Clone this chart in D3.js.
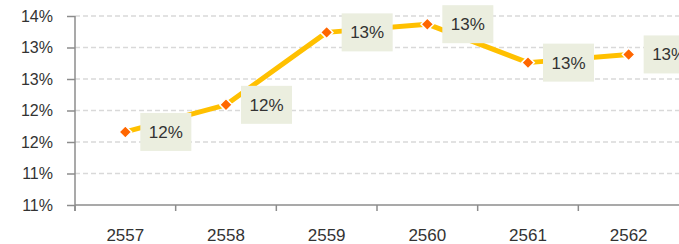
<!DOCTYPE html>
<html><head><meta charset="utf-8">
<script src="https://cdn.jsdelivr.net/npm/d3@7"></script>
<style>html,body{margin:0;padding:0;background:#fff;}svg{display:block;}</style>
</head><body>
<script>
const categories = ["2557","2558","2559","2560","2561","2562"];
const values = [12.16, 12.59, 13.74, 13.87, 13.26, 13.39];
const dataLabels = ["12%","12%","13%","13%","13%","13%"];
const yTicks = [11, 11.5, 12, 12.5, 13, 13.5, 14];
const yTickLabels = ["11%","11%","12%","12%","13%","13%","14%"];

const W = 679, H = 244;
const mLeft = 75, mRight = 679, mTop = 16, mBottom = 205;
const svg = d3.select("body").append("svg").attr("width", W).attr("height", H);
const font = "'Liberation Sans', Arial, sans-serif";

const x = d3.scaleBand().domain(categories).range([mLeft, mRight]).padding(0);
const y = d3.scaleLinear().domain([11, 14]).range([mBottom, mTop]);

// gridlines
svg.append("g").selectAll("line").data(yTicks.filter(t => t !== 11)).join("line")
  .attr("x1", mLeft).attr("x2", mRight)
  .attr("y1", d => y(d)).attr("y2", d => y(d))
  .attr("stroke", "#d9d9d9").attr("stroke-width", 1.5).attr("stroke-dasharray", "5,3");

// y axis
const yAxis = d3.axisLeft(y).tickValues(yTicks).tickSize(8).tickPadding(14)
  .tickFormat((d, i) => yTickLabels[i]);
const gy = svg.append("g").attr("transform", `translate(${mLeft},0)`).call(yAxis);
gy.select(".domain").attr("stroke", "#8c8c8c").attr("stroke-width", 1.5).attr("d", `M0,${mTop}V${mBottom + 6}`);
gy.selectAll(".tick line").attr("stroke", "#8c8c8c").attr("stroke-width", 1.5);
gy.selectAll(".tick text").attr("font-family", font).attr("font-size", 16).attr("fill", "#333");

// x axis
const gx = svg.append("g").attr("transform", `translate(0,${mBottom})`);
gx.append("line").attr("x1", mLeft).attr("x2", mRight).attr("y1", 0).attr("y2", 0)
  .attr("stroke", "#8c8c8c").attr("stroke-width", 1.5);
gx.selectAll("line.tk").data(categories).join("line").attr("class", "tk")
  .attr("x1", d => x(d)).attr("x2", d => x(d)).attr("y1", 0).attr("y2", 6)
  .attr("stroke", "#8c8c8c").attr("stroke-width", 1.5);
gx.selectAll("text").data(categories).join("text")
  .attr("x", d => x(d) + x.bandwidth() / 2).attr("y", 36)
  .attr("text-anchor", "middle").attr("font-family", font).attr("font-size", 17).attr("fill", "#333")
  .text(d => d);

// line
const pts = categories.map((c, i) => ({c, v: values[i], l: dataLabels[i]}));
const cx = d => x(d.c) + x.bandwidth() / 2;
svg.append("path").datum(pts)
  .attr("d", d3.line().x(cx).y(d => y(d.v)))
  .attr("fill", "none").attr("stroke", "#FFC000").attr("stroke-width", 5).attr("stroke-linejoin", "round");

// markers
svg.append("g").selectAll("path").data(pts).join("path")
  .attr("d", d3.symbol().type(d3.symbolDiamond2).size(100))
  .attr("transform", d => `translate(${cx(d)},${y(d.v)})`)
  .attr("fill", "#FF6600").attr("stroke", "#fff").attr("stroke-width", 1.5);

// data labels
const lg = svg.append("g").selectAll("g").data(pts).join("g")
  .attr("transform", d => `translate(${cx(d) + 15},${y(d.v)})`);
lg.append("rect").attr("x", 0).attr("y", -19).attr("width", 51).attr("height", 38).attr("fill", "#EBEEDF");
lg.append("text").attr("x", 25.5).attr("y", 6).attr("text-anchor", "middle")
  .attr("font-family", font).attr("font-size", 17).attr("fill", "#333").text(d => d.l);
</script>
</body></html>
